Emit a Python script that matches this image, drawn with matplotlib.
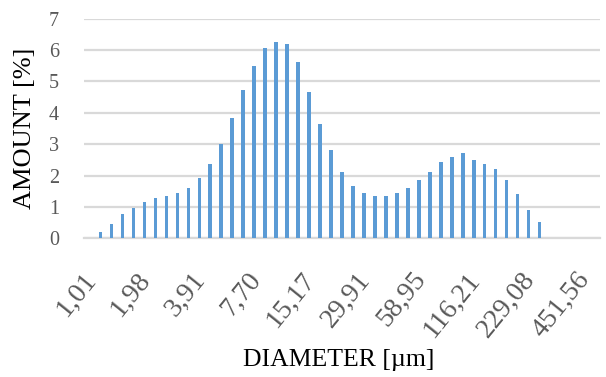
import matplotlib
matplotlib.use("Agg")
import matplotlib.pyplot as plt
from matplotlib.transforms import ScaledTranslation

diameters = ["1,01", "1,16", "1,32", "1,51", "1,73", "1,98", "2,27", "2,60", "2,98", "3,41",
             "3,91", "4,48", "5,13", "5,87", "6,73", "7,70", "8,82", "10,10", "11,57", "13,25",
             "15,17", "17,37", "19,90", "22,79", "26,11", "29,91", "34,25", "39,23", "44,93", "51,47",
             "58,95", "67,52", "77,34", "88,58", "101,46", "116,21", "133,10", "152,45", "174,62", "200,00",
             "229,08", "262,39", "300,53", "344,22", "394,26", "451,56", "517,20"]
amount = [0.0, 0.20, 0.46, 0.78, 0.97, 1.16, 1.29, 1.35, 1.45, 1.60,
          1.92, 2.37, 3.01, 3.84, 4.73, 5.49, 6.07, 6.26, 6.20, 5.62,
          4.67, 3.65, 2.82, 2.11, 1.67, 1.45, 1.35, 1.35, 1.45, 1.60,
          1.86, 2.11, 2.43, 2.59, 2.72, 2.50, 2.37, 2.21, 1.86, 1.41,
          0.90, 0.52, 0.0, 0.0, 0.0, 0.0, 0.0]
y_ticks = [0, 1, 2, 3, 4, 5, 6, 7]
label_step = 5

fig = plt.figure(figsize=(6.06, 3.77), dpi=100)
ax = fig.add_axes([84/606, 1-238.3/377, 516/606, (238.3-18.7)/377])

x = list(range(len(diameters)))
ax.bar(x, amount, width=0.32, color="#5b9bd5", zorder=3)

ax.set_xlim(-0.5, len(diameters) - 0.5)
ax.set_ylim(0, 7)
ax.set_yticks(y_ticks)
ax.set_yticklabels([str(v) for v in y_ticks], fontfamily="Liberation Serif", fontsize=14.5, color="#595959")
ax.grid(axis="y", color="#d9d9d9", linewidth=1.6, zorder=0)
for s in ["top", "right", "left"]:
    ax.spines[s].set_visible(False)
ax.spines["bottom"].set_color("#d9d9d9")
ax.spines["bottom"].set_linewidth(1.6)
ax.tick_params(axis="both", length=0)
ax.tick_params(axis="y", pad=18)

tick_idx = x[::label_step]
ax.set_xticks(tick_idx)
labels = ax.set_xticklabels([diameters[i] for i in tick_idx], fontfamily="Liberation Serif",
                            fontsize=20, color="#595959", rotation=51, ha="right", va="center",
                            rotation_mode="anchor")
ax.tick_params(axis="x", pad=0)
off = ScaledTranslation(0.02, -0.37, fig.dpi_scale_trans)
for lab in labels:
    lab.set_transform(lab.get_transform() + off)

fig.text(25/606, 1-128/377, "AMOUNT [%]", rotation=90, ha="center", va="center",
         fontfamily="Liberation Serif", fontsize=19, color="#000000")
fig.text(339/606, 1-360/377, "DIAMETER [µm]", ha="center", va="center",
         fontfamily="Liberation Serif", fontsize=18.5, color="#000000")

fig.savefig("out.png", dpi=100)
